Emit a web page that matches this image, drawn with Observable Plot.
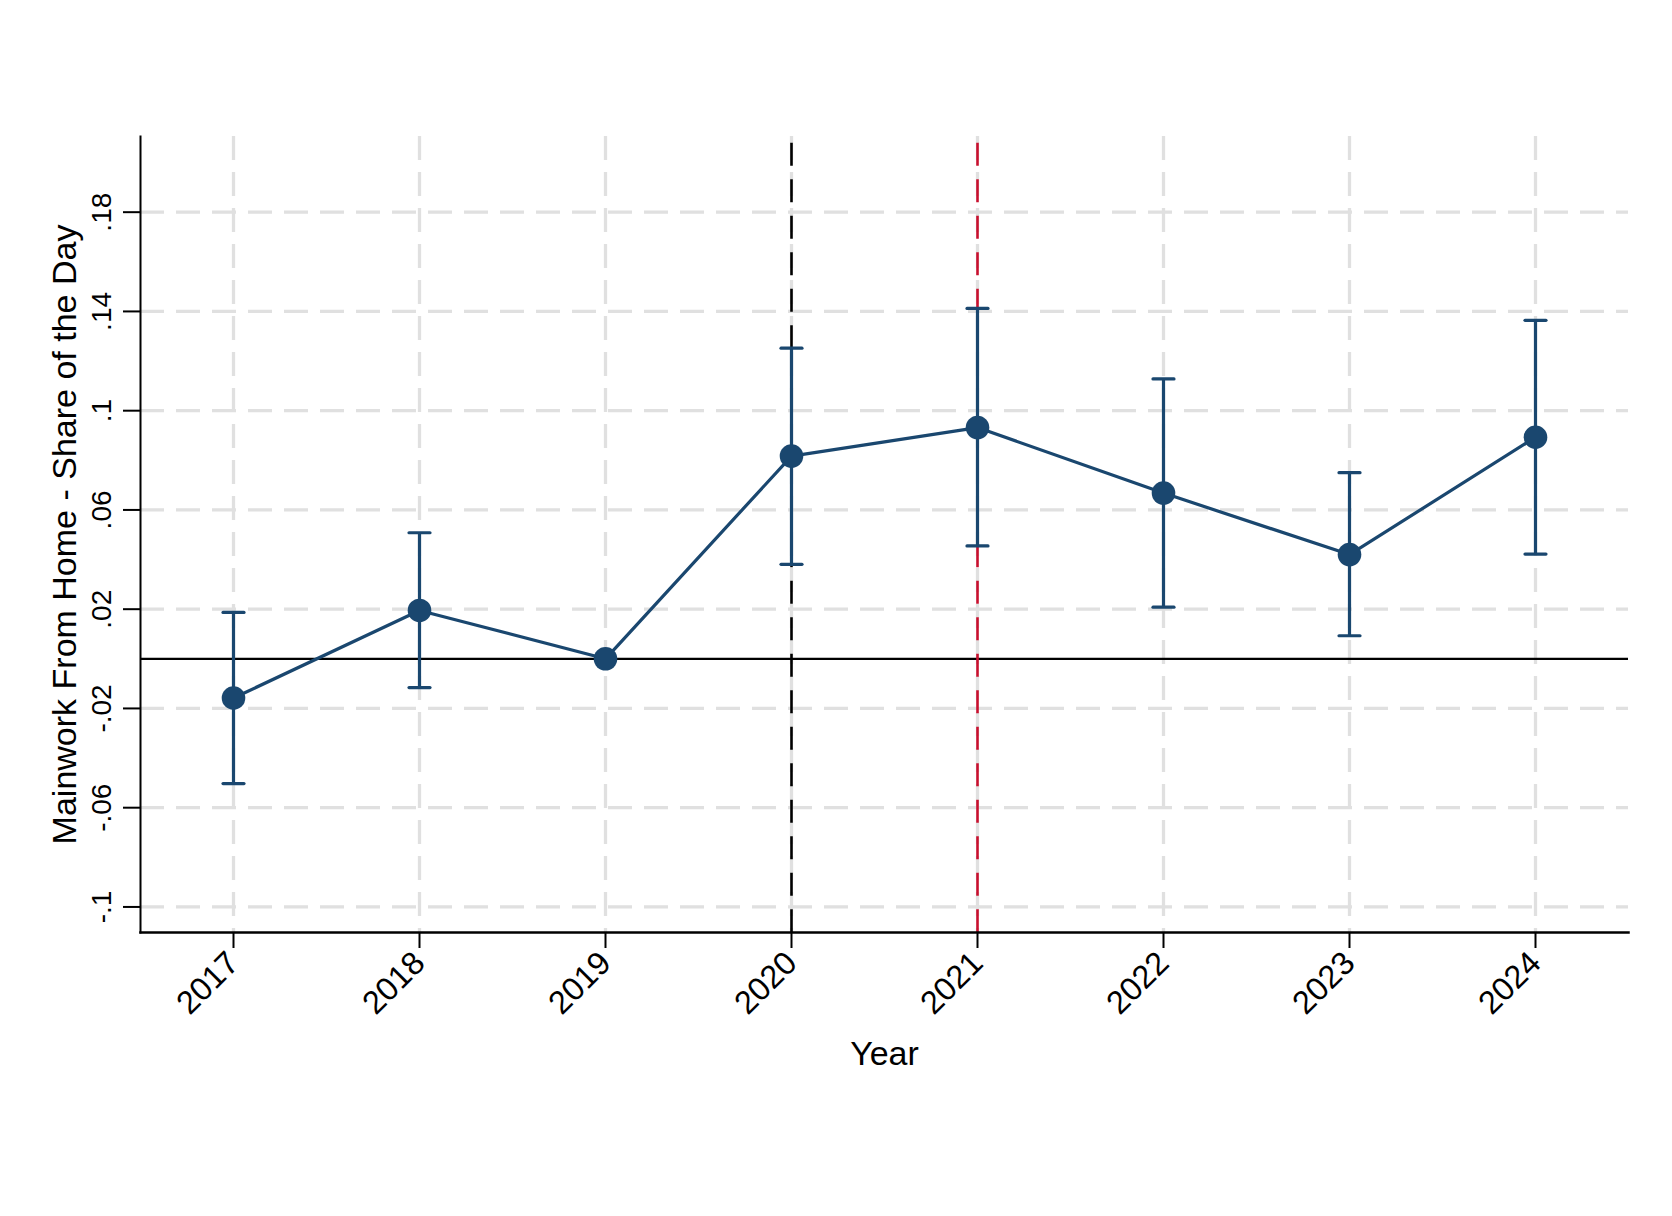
<!DOCTYPE html>
<html><head><meta charset="utf-8">
<script src="https://cdn.jsdelivr.net/npm/d3@7"></script>
<script src="https://cdn.jsdelivr.net/npm/@observablehq/plot@0.6"></script>
<style>html,body{margin:0;padding:0;background:#fff;}</style>
</head><body><div id="chart"></div>
<script>
const years = [2017, 2018, 2019, 2020, 2021, 2022, 2023, 2024];
const coef = [-0.0158, 0.0195, 0, 0.0817, 0.0932, 0.0668, 0.0420, 0.0893];
const ciLow = [-0.0503, -0.0116, 0, 0.0381, 0.0455, 0.0208, 0.0093, 0.0422];
const ciHigh = [0.0187, 0.0508, 0, 0.1252, 0.1412, 0.1128, 0.0750, 0.1364];
const yTicks = [-0.1, -0.06, -0.02, 0.02, 0.06, 0.1, 0.14, 0.18];
const yTickLabels = ["-.1", "-.06", "-.02", ".02", ".06", ".1", ".14", ".18"];
const eventYears = [2020, 2021];
const eventColors = ["#000000", "#c8102e"];
const xTitle = "Year";
const yTitle = "Mainwork From Home - Share of the Day";

const navy = "#1a476f";
const font = "'Liberation Sans', Arial, Helvetica, sans-serif";

const data = years.map((year, i) => ({year, coef: coef[i], lo: ciLow[i], hi: ciHigh[i]}));
const errData = data.filter(d => d.hi !== d.lo);
const capData = errData.flatMap(d => [{year: d.year, y: d.hi}, {year: d.year, y: d.lo}]);
const capSymbol = {draw(ctx) { ctx.moveTo(-10.5, 0); ctx.lineTo(10.5, 0); }};

const chart = Plot.plot({
  width: 1672,
  height: 1216,
  marginLeft: 140,
  marginRight: 44,
  marginTop: 136,
  marginBottom: 284,
  style: {fontFamily: font, background: "#fff", color: "#000"},
  x: {type: "linear", domain: [2016.5, 2024.5]},
  y: {domain: [-0.1103, 0.2105]},
  marks: [
    Plot.gridY(yTicks, {stroke: "#e0e0e0", strokeOpacity: 1, strokeWidth: 3.3, strokeDasharray: "24,12"}),
    Plot.gridX(years, {stroke: "#e0e0e0", strokeOpacity: 1, strokeWidth: 3.3, strokeDasharray: "24,12"}),
    Plot.ruleY([0], {stroke: "#000", strokeWidth: 2.2}),
    Plot.ruleX(eventYears, {x: d => d, stroke: (d, i) => eventColors[i], strokeWidth: 2.6, strokeDasharray: "23,13.5", strokeDashoffset: -6.7}),
    Plot.frame({anchor: "left", stroke: "#000", strokeWidth: 2}),
    Plot.frame({anchor: "bottom", stroke: "#000", strokeWidth: 2.5}),
    Plot.axisY(yTicks, {
      tickRotate: -90, tickSize: 17, tickPadding: 13, fontSize: 28,
      stroke: "#000", strokeWidth: 2, fill: "#000",
      tickFormat: d => yTickLabels[yTicks.indexOf(d)], label: null
    }),
    Plot.axisY([], {label: yTitle, labelAnchor: "center", labelArrow: "none", labelOffset: 89, fontSize: 34, tickSize: 0, fill: "#000"}),
    Plot.axisX(years, {
      tickRotate: -45, tickSize: 16, tickPadding: 9, fontSize: 32.5,
      stroke: "#000", strokeWidth: 2, fill: "#000",
      tickFormat: d => String(d), label: null
    }),
    Plot.axisX([], {label: xTitle, labelAnchor: "center", labelArrow: "none", labelOffset: 132, fontSize: 34, tickSize: 0, fill: "#000"}),
    Plot.ruleX(errData, {x: "year", y1: "lo", y2: "hi", stroke: navy, strokeWidth: 3.2}),
    Plot.dot(capData, {x: "year", y: "y", symbol: capSymbol, stroke: navy, strokeWidth: 3.2, strokeLinecap: "round"}),
    Plot.line(data, {x: "year", y: "coef", stroke: navy, strokeWidth: 3.2}),
    Plot.dot(data, {x: "year", y: "coef", r: 11.8, fill: navy, stroke: "none"})
  ]
});
document.getElementById("chart").appendChild(chart);
</script>
</body></html>
